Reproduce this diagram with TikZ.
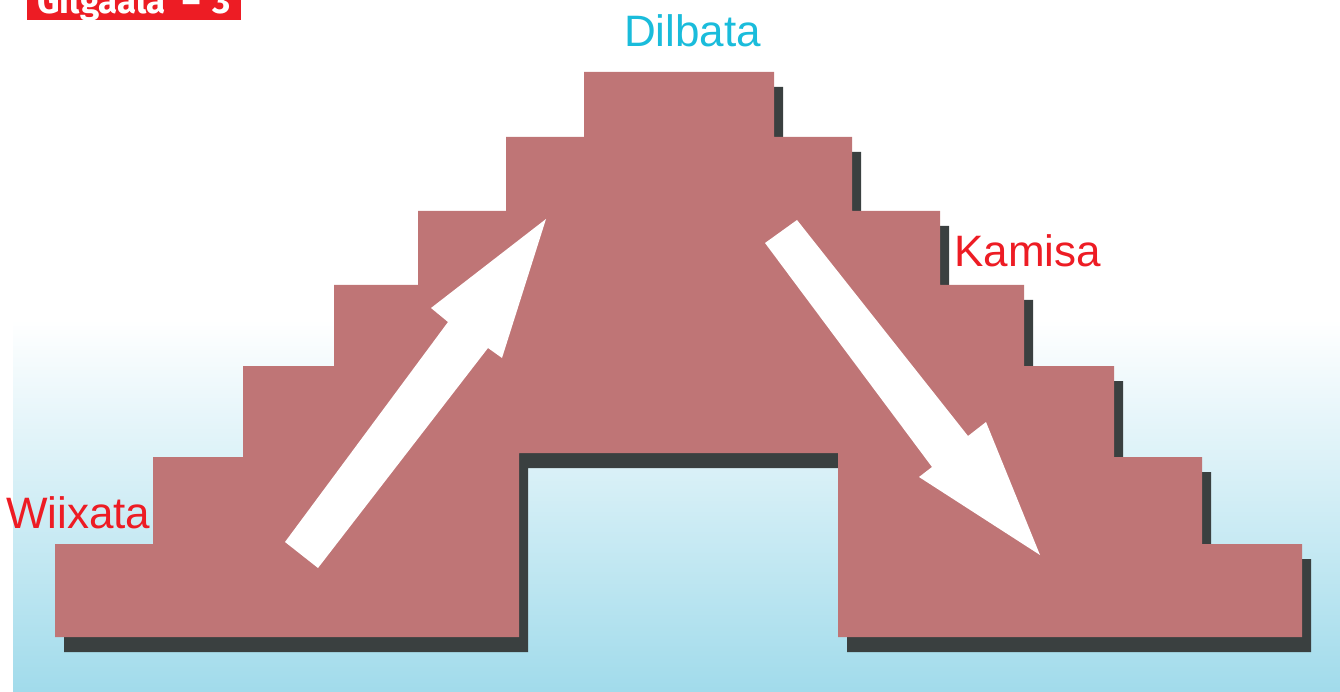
\documentclass[tikz,border=0pt]{standalone}
\usepackage{fontspec}
\setmainfont{Liberation Sans}
\newfontfamily\labelfont{Fira Sans}
\definecolor{shapecol}{RGB}{191,117,118}
\definecolor{shadowcol}{RGB}{58,64,64}
\definecolor{redtext}{RGB}{237,28,36}
\definecolor{cyantext}{RGB}{26,188,219}
\definecolor{bgblue}{RGB}{161,219,235}
\tikzset{
  bigtext/.style={inner sep=0pt, font=\fontsize{44}{50}\selectfont},
  arrowshape/.style={fill=white, draw=none},
}
\begin{document}
\begin{tikzpicture}[x=1pt,y=-1pt]
\useasboundingbox (0,0) rectangle (1340,692);
\clip (0,0) rectangle (1340,692);
% background gradient
\shade[top color=white, bottom color=bgblue] (13,320) rectangle (1340,692);
% shadow
\def\stairpath{(55,637) -- (55,544) -- (153,544) -- (153,457) -- (243,457) -- (243,366) -- (334,366) -- (334,285) -- (418,285) -- (418,211) -- (506,211) -- (506,137) -- (584,137) -- (584,72) -- (774,72) -- (774,137) -- (852,137) -- (852,211) -- (940,211) -- (940,285) -- (1024,285) -- (1024,366) -- (1114,366) -- (1114,457) -- (1202,457) -- (1202,544) -- (1302,544) -- (1302,637) -- (838,637) -- (838,453) -- (519,453) -- (519,637) -- cycle}
\fill[shadowcol, shift={(9,15)}] \stairpath;
\fill[shapecol] \stairpath;
% arrows
\fill[arrowshape] (285,542) -- (318,568) -- (488,348) -- (502,358) -- (546,219) -- (431,308) -- (448,322) -- cycle;
\fill[arrowshape] (765,243) -- (797,220) -- (968,436) -- (986,422) -- (1040,555) -- (919,477) -- (932,467) -- cycle;
% labels
\node[bigtext, text=cyantext, anchor=base west] (dilbata) at (624,47) {Dilbata};
\node[bigtext, text=redtext, anchor=base west] (kamisa) at (954,267) {Kamisa};
\node[bigtext, text=redtext, anchor=base west] (wiixata) at (6,528) {Wiixata};
% title tag
\fill[redtext] (27,-10) rectangle (241,20);
\node[inner sep=0pt, anchor=base west, text=white, font=\labelfont\bfseries\fontsize{35}{40}\selectfont] (title) at (37,14) {Gilgaala\hspace{17pt}–\hspace{12pt}3};
\end{tikzpicture}
\end{document}
